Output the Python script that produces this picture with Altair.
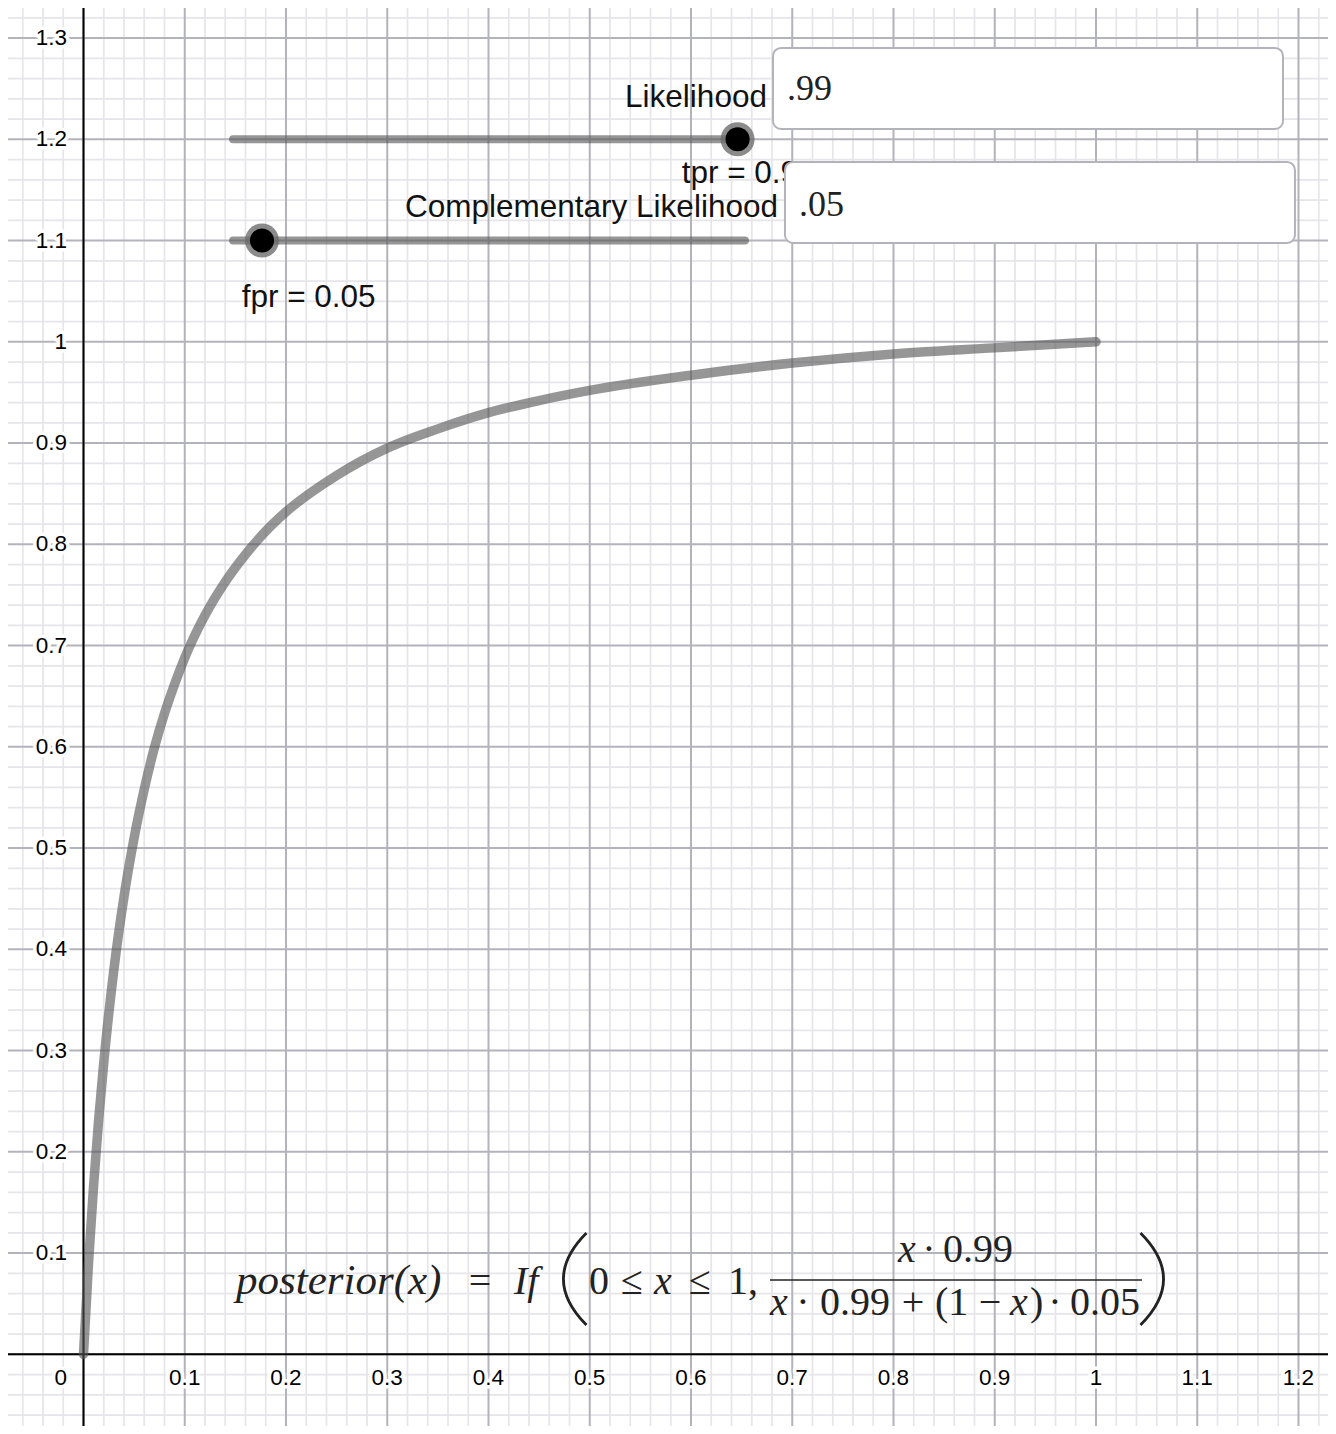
import altair as alt
import pandas as pd

# ---------------- data ----------------
prior_x = [0, 0.005, 0.01, 0.015, 0.02, 0.03, 0.04, 0.05, 0.06, 0.07, 0.08, 0.09,
           0.10, 0.12, 0.14, 0.16, 0.18, 0.20, 0.25, 0.30, 0.35, 0.40, 0.45, 0.50,
           0.60, 0.70, 0.80, 0.90, 1.00]
posterior_y = [0, 0.091, 0.167, 0.232, 0.288, 0.380, 0.452, 0.510, 0.558, 0.599, 0.633, 0.662,
               0.688, 0.730, 0.763, 0.790, 0.813, 0.832, 0.868, 0.895, 0.914, 0.930, 0.942, 0.952,
               0.967, 0.979, 0.988, 0.994, 1.000]

x_tick_values = [0.1, 0.2, 0.3, 0.4, 0.5, 0.6, 0.7, 0.8, 0.9, 1.0, 1.1, 1.2]
x_tick_labels = ["0.1", "0.2", "0.3", "0.4", "0.5", "0.6", "0.7", "0.8", "0.9", "1", "1.1", "1.2"]
y_tick_values = [0.1, 0.2, 0.3, 0.4, 0.5, 0.6, 0.7, 0.8, 0.9, 1.0, 1.1, 1.2, 1.3]
y_tick_labels = ["0.1", "0.2", "0.3", "0.4", "0.5", "0.6", "0.7", "0.8", "0.9", "1", "1.1", "1.2", "1.3"]
major_x = [round(i * 0.1, 1) for i in range(0, 13)]
major_y = [round(i * 0.1, 1) for i in range(0, 14)]
minor_x = [round(i * 0.02, 2) for i in range(-3, 62) if i % 5 != 0]
minor_y = [round(i * 0.02, 2) for i in range(-3, 67) if i % 5 != 0]

slider_names = ["tpr", "fpr"]
slider_values = [0.99, 0.05]
slider_labels = ["Likelihood", "Complementary Likelihood"]
input_texts = [".99", ".05"]

# ---------------- scales ----------------
XD = [-0.07457, 1.22914]
YD = [-0.07081, 1.32968]
xs = alt.Scale(domain=XD, nice=False, zero=False)
ys = alt.Scale(domain=YD, nice=False, zero=False)
X = lambda f="x": alt.X(f"{f}:Q", scale=xs, axis=None)
Y = lambda f="y": alt.Y(f"{f}:Q", scale=ys, axis=None)
X2 = lambda f="x2": alt.X2(f"{f}:Q")
Y2 = lambda f="y2": alt.Y2(f"{f}:Q")

# ---------------- grid ----------------
g_minor_x = alt.Chart(pd.DataFrame({"x": minor_x})).mark_rule(color="#e5e5ea", strokeWidth=1.7).encode(x=X())
g_minor_y = alt.Chart(pd.DataFrame({"y": minor_y})).mark_rule(color="#e5e5ea", strokeWidth=1.7).encode(y=Y())
g_major_x = alt.Chart(pd.DataFrame({"x": major_x})).mark_rule(color="#b3b3bb", strokeWidth=2).encode(x=X())
g_major_y = alt.Chart(pd.DataFrame({"y": major_y})).mark_rule(color="#b3b3bb", strokeWidth=2).encode(y=Y())
axis_x = alt.Chart(pd.DataFrame({"y": [0.0]})).mark_rule(color="black", strokeWidth=2).encode(y=Y())
axis_y = alt.Chart(pd.DataFrame({"x": [0.0]})).mark_rule(color="black", strokeWidth=2).encode(x=X())

# ---------------- tick labels ----------------
LBL_X = -0.0163   # right edge of y labels
LBL_Y = -0.0234   # centre line of x labels
ylab_df = pd.DataFrame({"x": [LBL_X] * len(y_tick_values), "y": y_tick_values, "t": y_tick_labels})
xlab_df = pd.DataFrame({"x": x_tick_values, "y": [LBL_Y] * len(x_tick_values), "t": x_tick_labels})
zero_df = pd.DataFrame({"x": [LBL_X], "y": [LBL_Y], "t": ["0"]})

def lab(df, align, halo):
    kw = dict(align=align, baseline="middle", font="Liberation Sans", fontSize=22.5)
    if halo:
        m = alt.Chart(df).mark_text(stroke="white", strokeWidth=7, strokeJoin="round", color="white", **kw)
    else:
        m = alt.Chart(df).mark_text(color="#000000", **kw)
    return m.encode(x=X(), y=Y(), text="t:N")

labels = [lab(ylab_df, "right", True), lab(xlab_df, "center", True), lab(zero_df, "right", True),
          lab(ylab_df, "right", False), lab(xlab_df, "center", False), lab(zero_df, "right", False)]

# ---------------- curve ----------------
curve = alt.Chart(pd.DataFrame({"x": prior_x, "y": posterior_y})).mark_line(
    color="#555555", opacity=0.62, strokeWidth=9.5, strokeCap="round", interpolate="monotone"
).encode(x=X(), y=Y())

# ---------------- sliders ----------------
slider_df = pd.DataFrame({"name": slider_names, "x": [0.1477, 0.1477], "x2": [0.6533, 0.6533],
                          "y": [1.2, 1.1]})
slider_lines = alt.Chart(slider_df).mark_rule(color="#555555", opacity=0.62, strokeWidth=8,
                                              strokeCap="round").encode(x=X(), x2=X2(), y=Y())
knob_df = pd.DataFrame({"name": slider_names, "value": slider_values,
                        "x": [0.646, 0.1763], "y": [1.2, 1.1]})
knob_ring = alt.Chart(knob_df).mark_circle(color="#6a6a6a", opacity=0.78, size=1156).encode(x=X(), y=Y())
knob_dot = alt.Chart(knob_df).mark_circle(color="black", opacity=1, size=580).encode(x=X(), y=Y())

sl_font = dict(font="Liberation Sans", fontSize=31.5, color="#111111", baseline="alphabetic")
title_df = pd.DataFrame({"t": slider_labels, "x": [0.675, 0.6859], "y": [1.2322, 1.1230]})
slider_titles = alt.Chart(title_df).mark_text(align="right", **sl_font).encode(x=X(), y=Y(), text="t:N")
val_df = pd.DataFrame({"t": [f"{n} = {v}" for n, v in zip(slider_names, slider_values)],
                       "x": [0.5908, 0.1562], "y": [1.1568, 1.0344]})
slider_vals = alt.Chart(val_df).mark_text(align="left", **sl_font).encode(x=X(), y=Y(), text="t:N")

# ---------------- input boxes ----------------
box_df = pd.DataFrame({"x": [0.681, 0.6928], "x2": [1.1847, 1.1965],
                       "y": [1.2902, 1.1776], "y2": [1.2102, 1.0976]})
boxes = alt.Chart(box_df).mark_rect(fill="white", stroke="#b3b3bb", strokeWidth=2,
                                    cornerRadius=8).encode(x=X(), x2=X2(), y=Y(), y2=Y2())
box_txt_df = pd.DataFrame({"t": input_texts, "x": [0.6948, 0.7067], "y": [1.2388, 1.1242]})
box_txt = alt.Chart(box_txt_df).mark_text(align="left", baseline="alphabetic", font="Liberation Serif",
                                          fontSize=36, color="#222222").encode(x=X(), y=Y(), text="t:N")

# ---------------- formula ----------------
it_df = pd.DataFrame({
    "t": ["posterior(x)", "If", "x", "x", "x", "x"],
    "x": [0.1506, 0.4252, 0.5635, 0.8044, 0.678, 0.9151],
    "y": [0.0596, 0.0596, 0.0596, 0.0912, 0.0388, 0.0388],
    "s": [43, 40, 40, 40, 40, 40]})
up_df = pd.DataFrame({
    "t": ["0", "1,", "0.99", "0.99", "(1", ")", "0.05"],
    "x": [0.4993, 0.6366, 0.8489, 0.7274, 0.841, 0.9348, 0.9743],
    "y": [0.0596, 0.0596, 0.0912, 0.0388, 0.0388, 0.0388, 0.0388]})
op_df = pd.DataFrame({
    "t": ["=", "≤", "≤", "·", "·", "+", "−", "·"],
    "x": [0.3916, 0.5417, 0.6089, 0.835, 0.7106, 0.8193, 0.8953, 0.9595],
    "y": [0.0596, 0.0596, 0.0596, 0.0912, 0.0388, 0.0388, 0.0388, 0.0388]})
f_it = alt.Chart(it_df).mark_text(align="left", baseline="alphabetic", font="Liberation Serif",
                                  fontStyle="italic", color="#222222").encode(
    x=X(), y=Y(), text="t:N", size=alt.Size("s:Q", scale=None, legend=None))
f_up = alt.Chart(up_df).mark_text(align="left", baseline="alphabetic", font="Liberation Serif",
                                  fontSize=40, color="#222222").encode(x=X(), y=Y(), text="t:N")
f_op = alt.Chart(op_df).mark_text(align="center", baseline="alphabetic", font="Liberation Serif",
                                  fontSize=40, color="#222222").encode(x=X(), y=Y(), text="t:N")
bar = alt.Chart(pd.DataFrame({"x": [0.678], "x2": [1.0454], "y": [0.0734]})).mark_rule(
    color="#222222", strokeWidth=1.5).encode(x=X(), x2=X2(), y=Y())
lparen = alt.Chart(pd.DataFrame({"x": [0.4854], "y": [0.0744]})).mark_point(
    shape="M 0.25 -1 Q -0.75 0 0.25 1", size=8464, filled=False, strokeWidth=2.8,
    color="#222222", opacity=1).encode(x=X(), y=Y())
rparen = alt.Chart(pd.DataFrame({"x": [1.0553], "y": [0.0744]})).mark_point(
    shape="M -0.25 -1 Q 0.75 0 -0.25 1", size=8464, filled=False, strokeWidth=2.8,
    color="#222222", opacity=1).encode(x=X(), y=Y())

chart = alt.layer(
    g_minor_x, g_minor_y, g_major_x, g_major_y, axis_x, axis_y,
    *labels,
    f_it, f_up, f_op, bar, lparen, rparen,
    curve, slider_lines, knob_ring, knob_dot,
    slider_titles, slider_vals, boxes, box_txt,
).properties(
    width=1320, height=1418,
    autosize=alt.AutoSizeParams(type="none"),
    padding=0,
    background="white",
).configure_view(strokeWidth=0)

chart.save("out.html", embed_options={"renderer": "svg", "actions": False})
